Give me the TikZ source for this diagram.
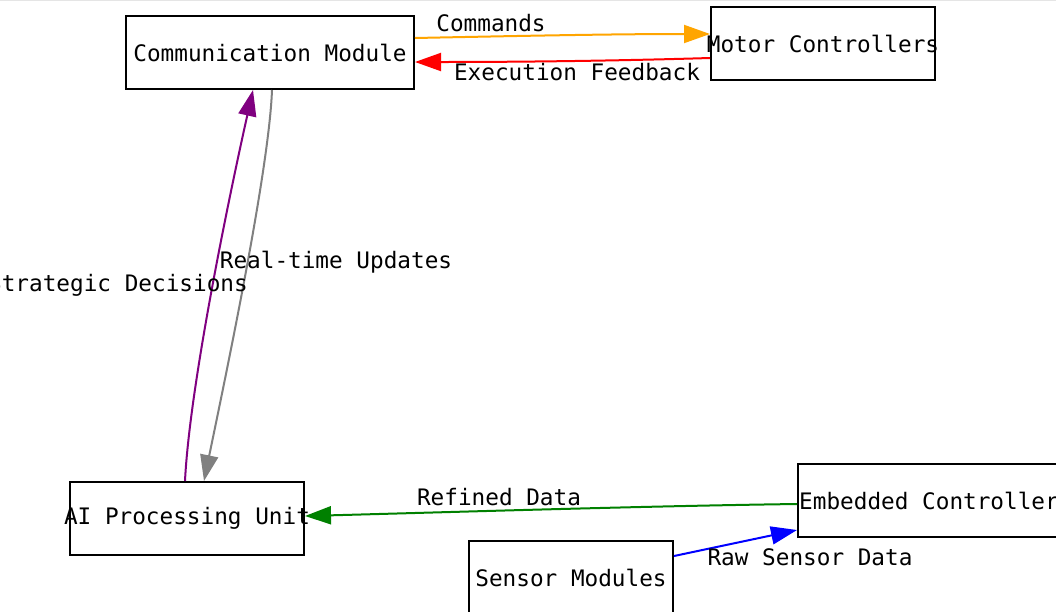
\documentclass[tikz,border=0pt]{standalone}
\usepackage{fontspec}
\newfontfamily\diagmono{DejaVu Sans Mono}
\usetikzlibrary{arrows.meta}
\definecolor{cOrange}{HTML}{FFA500}
\definecolor{cRed}{HTML}{FF0000}
\definecolor{cPurple}{HTML}{800080}
\definecolor{cGray}{HTML}{808080}
\definecolor{cGreen}{HTML}{008000}
\definecolor{cBlue}{HTML}{0000FF}
\tikzset{
  box/.style={draw=black, line width=2pt, rectangle, minimum height=73pt, inner sep=0pt,
    font=\diagmono\fontsize{22.7}{27}\selectfont},
  lbl/.style={inner sep=0pt, font=\diagmono\fontsize{22.7}{27}\selectfont},
  edge/.style={line width=2pt, -{Triangle[length=26pt,width=18pt]}},
}
\newcommand{\boxtext}[1]{\makebox[0pt][c]{#1}}
\begin{document}
\begin{tikzpicture}[x=1pt,y=-1pt]
\clip (0,0) rectangle (1056,611);
\fill[white] (0,0) rectangle (1056,611);
\draw[black!10, line width=1pt] (0,0.8) -- (1056,0.8);

\node[box, minimum width=288pt] (comm) at (270,52.5) {\boxtext{Communication Module}};
\node[box, minimum width=224pt] (motor) at (823,43.5) {\boxtext{Motor Controllers}};
\node[box, minimum width=234pt] (ai) at (187,518.5) {\boxtext{AI Processing Unit}};
\node[box, minimum width=262pt] (emb) at (929,500.5) {\boxtext{Embedded Controller}};
\node[box, minimum width=204pt] (sens) at (571,577.5) {\boxtext{Sensor Modules}};

% connectors
\draw[edge, cOrange] ([yshift=14.5pt]comm.east) .. controls +(100,-2) and +(-100,0) .. ([yshift=9.5pt]motor.west);
\draw[edge, cRed] ([yshift=-14.5pt]motor.west) .. controls +(-100,3) and +(100,0) .. ([yshift=-9.5pt]comm.east);
\draw[edge, cPurple] ([xshift=-2pt]ai.north) .. controls +(5,-102) and +(-18,80) .. ([xshift=-17pt]comm.south);
\draw[edge, cGray] ([xshift=2pt]comm.south) .. controls +(-3,81) and +(21,-102) .. ([xshift=17pt]ai.north);
\draw[edge, cGreen] ([yshift=-3.5pt]emb.west) .. controls +(-150,2) and +(150,-4) .. ([yshift=2.5pt]ai.east);
\draw[edge, cBlue] ([yshift=21.5pt]sens.east) -- ([yshift=-29.5pt]emb.west);

% labels
\node[lbl] (lcmd) at (491,23) {Commands};
\node[lbl] (lfb) at (577,72) {Execution Feedback};
\node[lbl] (lsd) at (118,285) {Strategic Decisions};
\node[lbl] (lrt) at (336,262) {Real-time Updates};
\node[lbl] (lrd) at (499,497) {Refined Data};
\node[lbl] (lrs) at (810,557) {Raw Sensor Data};
\end{tikzpicture}
\end{document}
